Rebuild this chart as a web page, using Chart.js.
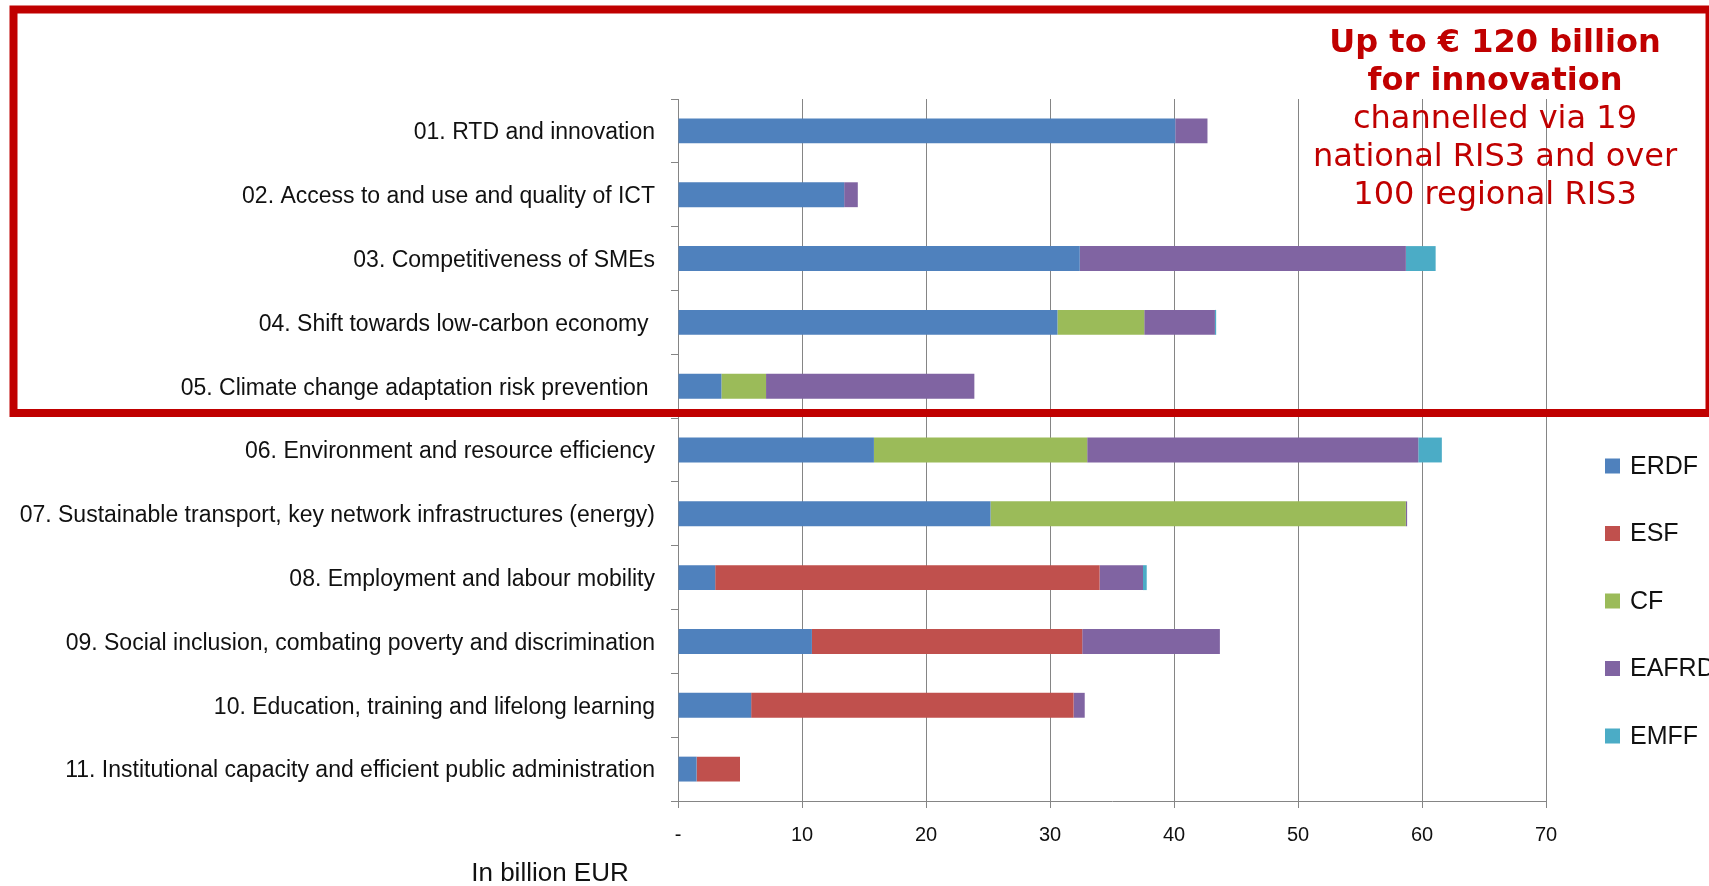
<!DOCTYPE html>
<html>
<head>
<meta charset="utf-8">
<script src="https://cdn.jsdelivr.net/npm/chart.js@4.4.0/dist/chart.umd.min.js"></script>
<style>
  body { margin: 0; background: #fff; }
  canvas { display: block; }
</style>
</head>
<body>
<canvas id="fundsChart" width="1709" height="886"></canvas>
<script>
// thematic objectives
var categories = [
  "01. RTD and innovation",
  "02. Access to and use and quality of ICT",
  "03. Competitiveness of SMEs",
  "04. Shift towards low-carbon economy ",
  "05. Climate change adaptation risk prevention ",
  "06. Environment and resource efficiency",
  "07. Sustainable transport, key network infrastructures (energy)",
  "08. Employment and labour mobility",
  "09. Social inclusion, combating poverty and discrimination",
  "10. Education, training and lifelong learning",
  "11. Institutional capacity and efficient public administration"
];

// billion EUR per fund
var erdf  = [40.1, 13.4, 32.4, 30.6, 3.5, 15.8, 25.2, 3.0, 10.8, 5.9, 1.5];
var esf   = [0, 0, 0, 0, 0, 0, 0, 31.0, 21.8, 26.0, 3.5];
var cf    = [0, 0, 0, 7.0, 3.6, 17.2, 33.5, 0, 0, 0, 0];
var eafrd = [2.6, 1.1, 26.3, 5.7, 16.8, 26.7, 0.1, 3.5, 11.1, 0.9, 0];
var emff  = [0, 0, 2.4, 0.1, 0, 1.9, 0, 0.3, 0, 0, 0];

var xTicks = [0, 10, 20, 30, 40, 50, 60, 70];

var noteBold = ["Up to \u20ac 120 billion", "for innovation"];
var noteText = ["channelled via 19", "national RIS3 and over", "100 regional RIS3"];
var axisTitle = "In billion EUR";

var gridGray = '#858585';
var red = '#c00000';

Chart.defaults.font.family = "'Liberation Sans', Arial, sans-serif";
Chart.defaults.color = '#111';

// legend, red box, note text, axis caption
var extras = {
  id: 'extras',
  afterDraw: function(chart) {
    var c = chart.ctx;
    c.save();

    // legend on the right
    c.font = "25px 'Liberation Sans', Arial, sans-serif";
    c.textBaseline = 'middle';
    c.textAlign = 'left';
    chart.data.datasets.forEach(function(ds, i) {
      var y = 466 + i * 67.5;
      c.fillStyle = ds.backgroundColor;
      c.fillRect(1605, y - 7.5, 15, 15);
      c.fillStyle = '#111';
      c.fillText(ds.label, 1630, y + 1);
    });

    // caption under the axis
    c.textAlign = 'center';
    c.font = "26px 'Liberation Sans', Arial, sans-serif";
    c.fillText(axisTitle, 550, 874);

    // red frame
    c.strokeStyle = red;
    c.lineWidth = 8;
    c.strokeRect(13.5, 9.5, 1696, 403.5);

    // note
    c.fillStyle = red;
    c.textBaseline = 'alphabetic';
    c.font = "bold 32px 'DejaVu Sans', Verdana, sans-serif";
    noteBold.forEach(function(t, i) {
      c.fillText(t, 1495, 52 + i * 38);
    });
    c.font = "32px 'DejaVu Sans', Verdana, sans-serif";
    noteText.forEach(function(t, i) {
      c.fillText(t, 1495, 128 + i * 38);
    });
    c.restore();
  }
};

var ctx = document.getElementById('fundsChart').getContext('2d');
var fundsChart = new Chart(ctx, {
  type: 'bar',
  data: {
    labels: categories,
    datasets: [
      { label: 'ERDF',  data: erdf,  backgroundColor: '#4f81bd' },
      { label: 'ESF',   data: esf,   backgroundColor: '#c0504d' },
      { label: 'CF',    data: cf,    backgroundColor: '#9bbb59' },
      { label: 'EAFRD', data: eafrd, backgroundColor: '#8064a2' },
      { label: 'EMFF',  data: emff,  backgroundColor: '#4bacc6' }
    ]
  },
  options: {
    responsive: false,
    animation: false,
    indexAxis: 'y',
    barPercentage: 0.39,
    categoryPercentage: 1,
    layout: { padding: { top: 99, right: 163, bottom: 0, left: 0 } },
    plugins: {
      legend: { display: false },
      tooltip: { enabled: false }
    },
    scales: {
      x: {
        stacked: true,
        min: 0,
        max: 70,
        afterBuildTicks: function(scale) {
          scale.ticks = xTicks.map(function(v) { return { value: v }; });
        },
        afterFit: function(scale) { scale.height = 85; },
        ticks: {
          padding: 15,
          font: { size: 20 },
          maxRotation: 0,
          callback: function(v) { return v === 0 ? '-' : v; }
        },
        grid: { color: gridGray, tickLength: 7, lineWidth: 1 },
        border: { display: true, color: gridGray }
      },
      y: {
        stacked: true,
        afterFit: function(scale) { scale.width = 678; },
        ticks: {
          padding: 16,
          autoSkip: false,
          labelOffset: 2,
          font: { size: 23 }
        },
        grid: {
          drawOnChartArea: false,
          offset: true,
          tickLength: 7,
          color: gridGray
        },
        border: { display: true, color: gridGray }
      }
    }
  },
  plugins: [extras]
});
</script>
</body>
</html>
